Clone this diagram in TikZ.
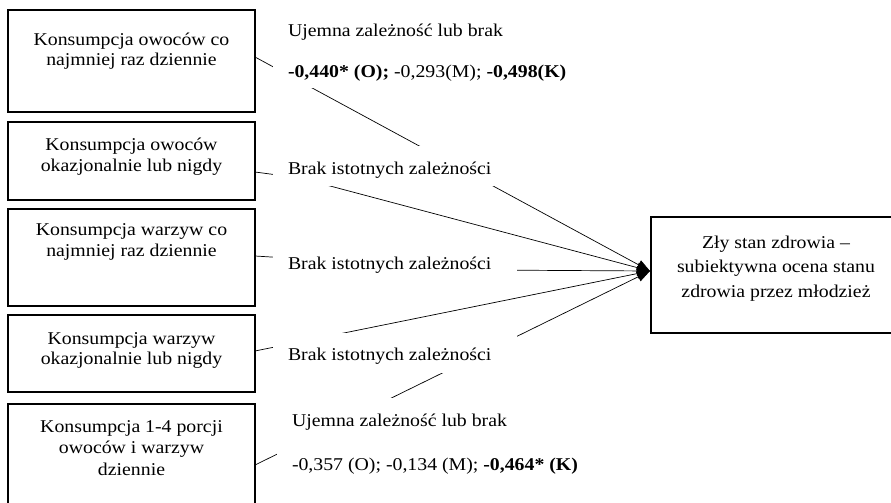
\documentclass[tikz,border=0pt]{standalone}
\usepackage{fontspec}
\setmainfont{Liberation Serif}[FakeStretch=1.1]
\usetikzlibrary{arrows.meta}
\newcommand\bxt[5]{\parbox[c][#2][t]{#1}{\fontsize{18}{#4}\selectfont\centering\rule{0pt}{#3}#5}}
\newcommand\lbw[2]{\makebox[#1][l]{#2}}
\begin{document}
\begin{tikzpicture}[x=1pt,y=-1pt,
  every node/.style={font=\fontsize{18}{21}\selectfont},
  box/.style={draw, line width=1.7pt, inner sep=0pt, outer sep=0pt},
  conn/.style={line width=0.7pt, -{Triangle[length=13pt,width=10pt]}},
  lab/.style={fill=white, anchor=base west, inner xsep=15pt, inner ysep=0pt, outer sep=0pt}]
\useasboundingbox (0,0) rectangle (891,503);
\clip (0,0) rectangle (891,503);
% boxes
\node[box] (b1) at (131.5,61) {\bxt{247pt}{102pt}{35.5pt}{20.5pt}{Konsumpcja owoców co\\najmniej raz dziennie}};
\node[box] (b2) at (131.5,161) {\bxt{247pt}{78pt}{28.5pt}{21pt}{Konsumpcja owoców\\okazjonalnie lub nigdy}};
\node[box] (b3) at (131.5,257.5) {\bxt{247pt}{97pt}{26pt}{21pt}{Konsumpcja warzyw co\\najmniej raz dziennie}};
\node[box] (b4) at (131.5,353.5) {\bxt{247pt}{77pt}{29pt}{20.5pt}{Konsumpcja warzyw\\okazjonalnie lub nigdy}};
\node[box] (b5) at (131.5,467) {\bxt{247pt}{126pt}{28pt}{21.7pt}{Konsumpcja 1-4 porcji\\owoców i warzyw\\dziennie}};
\node[box] (t) at (776,275) {\bxt{250pt}{116pt}{31pt}{24.5pt}{Zły stan zdrowia –\\subiektywna ocena stanu\\zdrowia przez młodzież}};
% connector points
\coordinate (tip) at (650,271);
\coordinate (h2) at (300,178);
\coordinate (h3) at (480,270);
% connectors
\draw[conn] ([yshift=4pt]b1.east) -- (tip);
\draw[conn] ([yshift=-11pt]b2.east) -- (h2) -- (tip);
\draw[conn] ([yshift=1.5pt]b3.east) -- (h3) -- (tip);
\draw[conn] ([yshift=2.5pt]b4.east) -- (tip);
\draw[conn] ([yshift=2pt]b5.east) -- (tip);
% labels
\node[lab] (l1a) at (273,36.7) {Ujemna zależność lub brak};
\node[lab, text height=20pt, text depth=10.7pt] (l1b) at (273,77.3) {\textbf{-0,440* (O);} -0,293(M); \textbf{-0,498(K)}};
\node[lab, text height=28pt, text depth=12pt] (l2) at (273,174) {\lbw{214pt}{Brak istotnych zależności}};
\node[lab, text height=22pt, text depth=8pt] (l3) at (273,269.3) {\lbw{214pt}{Brak istotnych zależności}};
\node[lab, text height=27pt, text depth=13pt] (l4) at (273,360) {\lbw{214pt}{Brak istotnych zależności}};
\node[lab, text height=28.7pt, text depth=20pt] (l5a) at (277,426.7) {Ujemna zależność lub brak};
\node[lab, text height=25pt, text depth=10pt] (l5b) at (277,470) {-0,357 (O); -0,134 (M); \textbf{-0,464* (K)}};
\end{tikzpicture}
\end{document}
